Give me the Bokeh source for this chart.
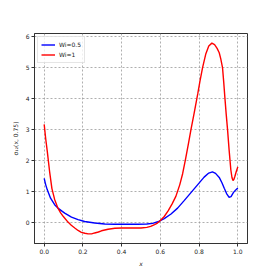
from bokeh.plotting import figure
from bokeh.models import Range1d, FixedTicker, Legend, LegendItem
from bokeh.embed import file_html
from bokeh.resources import INLINE

# Wi = 1 (red)
x_red = [0.000, 0.008, 0.016, 0.028, 0.040, 0.054, 0.071, 0.085, 0.100, 0.123,
         0.140, 0.158, 0.175, 0.192, 0.210, 0.227, 0.245, 0.261, 0.280, 0.296,
         0.330, 0.365, 0.400, 0.430, 0.470, 0.500, 0.530, 0.550, 0.570, 0.585,
         0.600, 0.620, 0.640, 0.660, 0.680, 0.700, 0.715, 0.730, 0.745, 0.758,
         0.775, 0.793, 0.805, 0.818, 0.835, 0.850, 0.866, 0.880, 0.893, 0.904,
         0.912, 0.921, 0.927, 0.933, 0.940, 0.947, 0.955, 0.964, 0.970, 0.975,
         0.980, 0.985, 0.992, 1.000]
y_red = [3.17, 2.70, 2.30, 1.65, 1.10, 0.75, 0.47, 0.32, 0.19, 0.02,
         -0.08, -0.17, -0.25, -0.31, -0.34, -0.36, -0.36, -0.33, -0.30, -0.26,
         -0.21, -0.18, -0.17, -0.17, -0.17, -0.17, -0.15, -0.12, -0.06, -0.01,
         0.07, 0.20, 0.38, 0.60, 0.85, 1.22, 1.58, 2.05, 2.55, 3.00,
         3.55, 4.15, 4.58, 5.00, 5.45, 5.70, 5.79, 5.74, 5.62, 5.48,
         5.28, 5.00, 4.55, 4.05, 3.50, 3.00, 2.35, 1.70, 1.45, 1.36,
         1.40, 1.50, 1.65, 1.80]

# Wi = 0.5 (blue)
x_blue = [0.000, 0.008, 0.016, 0.033, 0.054, 0.071, 0.090, 0.106, 0.141, 0.175,
          0.209, 0.261, 0.313, 0.365, 0.420, 0.480, 0.530, 0.560, 0.587, 0.620,
          0.655, 0.689, 0.724, 0.758, 0.792, 0.826, 0.850, 0.869, 0.885, 0.904,
          0.918, 0.930, 0.942, 0.955, 0.965, 0.977, 0.988, 1.000]
y_blue = [1.43, 1.22, 1.06, 0.79, 0.58, 0.47, 0.38, 0.31, 0.18, 0.10,
          0.04, -0.01, -0.04, -0.05, -0.05, -0.05, -0.04, -0.02, 0.03, 0.13,
          0.28, 0.47, 0.72, 0.97, 1.22, 1.47, 1.60, 1.64, 1.59, 1.46,
          1.29, 1.11, 0.94, 0.82, 0.84, 0.97, 1.05, 1.12]

x_ticks = [0.0, 0.2, 0.4, 0.6, 0.8, 1.0]
x_tick_labels = ["0.0", "0.2", "0.4", "0.6", "0.8", "1.0"]
y_ticks = [0, 1, 2, 3, 4, 5, 6]
labels = ["Wi=0.5", "Wi=1"]

FONT = "DejaVu Sans"

p = figure(output_backend="svg", toolbar_location=None,
           frame_width=213, frame_height=210,
           min_border_left=34, min_border_top=33, min_border_right=10, min_border_bottom=10,
           x_range=Range1d(-0.05, 1.05), y_range=Range1d(-0.67, 6.10))

p.background_fill_color = "white"
p.border_fill_color = "white"
p.outline_line_color = "#333333"
p.outline_line_width = 1

for ax in (p.xaxis[0], p.yaxis[0]):
    ax.axis_line_color = "#333333"
    ax.major_tick_line_color = "#333333"
    ax.major_tick_out = 3
    ax.major_tick_in = 0
    ax.minor_tick_line_color = None
    ax.major_label_text_font = FONT
    ax.major_label_text_font_size = "6px"
    ax.major_label_text_color = "#222222"
    ax.axis_label_text_font = FONT
    ax.axis_label_text_font_size = "6px"
    ax.axis_label_text_color = "#222222"
    ax.major_label_standoff = 2

p.xaxis.ticker = FixedTicker(ticks=x_ticks)
p.xaxis.major_label_overrides = {t: l for t, l in zip(x_ticks, x_tick_labels)}
p.yaxis.ticker = FixedTicker(ticks=y_ticks)
p.xaxis.axis_label = "x"
p.xaxis.axis_label_text_font_style = "italic"
p.xaxis.axis_label_standoff = 3
p.yaxis.axis_label = "σ₁₂(x, 0.75)"
p.yaxis.axis_label_text_font_style = "normal"
p.yaxis.axis_label_standoff = 4

p.grid.grid_line_color = "#9a9a9a"
p.grid.grid_line_dash = "2 2"
p.grid.grid_line_width = 0.8

r_blue = p.line(x_blue, y_blue, line_color="blue", line_width=1.4)
r_red = p.line(x_red, y_red, line_color="red", line_width=1.4)

legend = Legend(items=[LegendItem(label=labels[0], renderers=[r_blue]),
                       LegendItem(label=labels[1], renderers=[r_red])],
                location="top_left")
legend.label_text_font = FONT
legend.label_text_font_size = "6px"
legend.label_text_color = "#222222"
legend.glyph_width = 14
legend.glyph_height = 9
legend.label_height = 9
legend.label_standoff = 4
legend.spacing = 1
legend.padding = 3
legend.margin = 3
legend.border_line_color = "#cccccc"
legend.border_line_width = 1
legend.background_fill_alpha = 0.8
p.add_layout(legend)

open("out.html", "w").write(file_html(p, INLINE))
